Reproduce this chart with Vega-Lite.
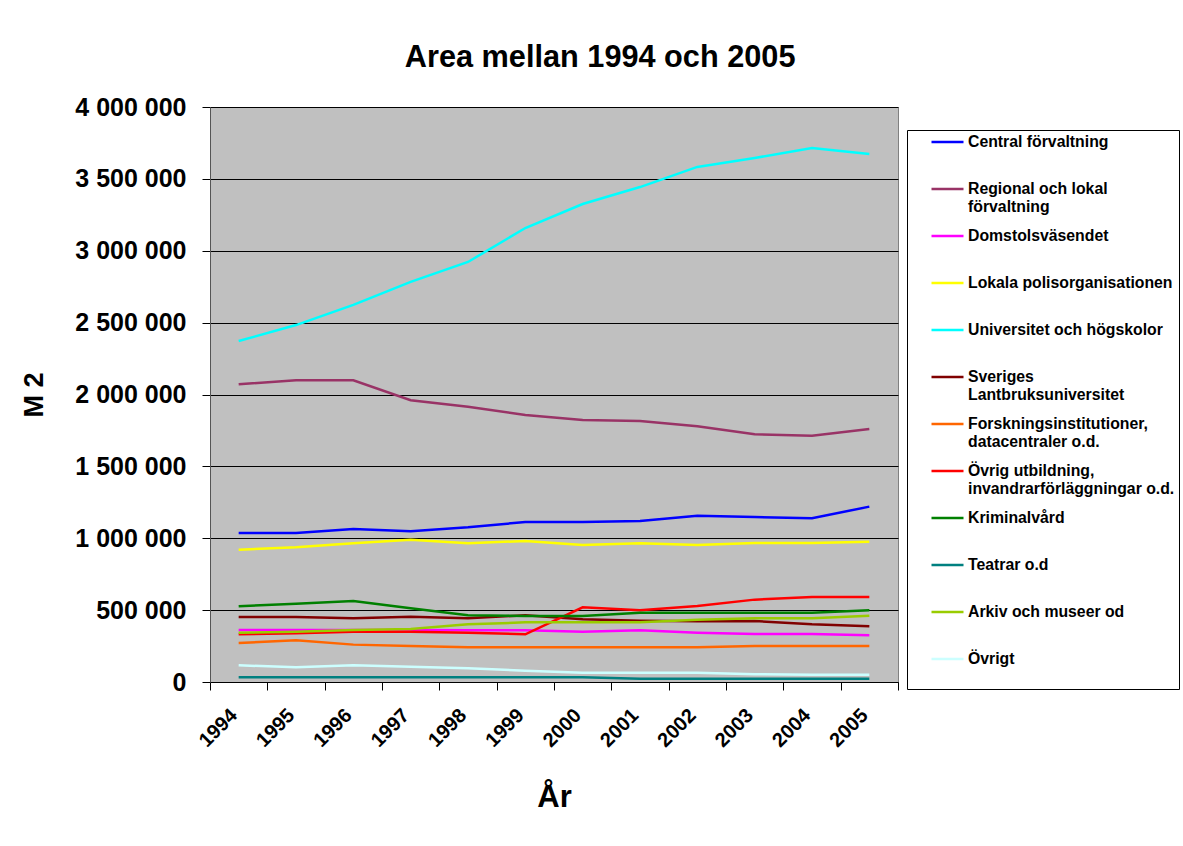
{
  "$schema": "https://vega.github.io/schema/vega-lite/v6.json",
  "autosize": {"type": "none"},
  "padding": {"left": 210, "top": 107, "right": 285, "bottom": 164},
  "width": 688,
  "height": 575,
  "background": "white",
  "config": {
    "font": "Liberation Sans",
    "locale": {"number": {"decimal": ",", "thousands": " ", "grouping": [3], "currency": ["", ""]}},
    "view": {"fill": "#C0C0C0", "stroke": "#808080", "strokeWidth": 1}
  },
  "title": {
    "text": "Area mellan 1994 och 2005",
    "fontSize": 30.7,
    "fontWeight": "bold",
    "font": "Liberation Sans",
    "color": "black",
    "frame": "bounds",
    "offset": 21
  },
  "data": {
    "values": [
      {"year": "1994", "series": "Central förvaltning", "value": 1036000},
      {"year": "1995", "series": "Central förvaltning", "value": 1036000},
      {"year": "1996", "series": "Central förvaltning", "value": 1064000},
      {"year": "1997", "series": "Central förvaltning", "value": 1048000},
      {"year": "1998", "series": "Central förvaltning", "value": 1076000},
      {"year": "1999", "series": "Central förvaltning", "value": 1113000},
      {"year": "2000", "series": "Central förvaltning", "value": 1113000},
      {"year": "2001", "series": "Central förvaltning", "value": 1120000},
      {"year": "2002", "series": "Central förvaltning", "value": 1157000},
      {"year": "2003", "series": "Central förvaltning", "value": 1148000},
      {"year": "2004", "series": "Central förvaltning", "value": 1139000},
      {"year": "2005", "series": "Central förvaltning", "value": 1220000},

      {"year": "1994", "series": "Regional och lokal förvaltning", "value": 2071000},
      {"year": "1995", "series": "Regional och lokal förvaltning", "value": 2099000},
      {"year": "1996", "series": "Regional och lokal förvaltning", "value": 2099000},
      {"year": "1997", "series": "Regional och lokal förvaltning", "value": 1960000},
      {"year": "1998", "series": "Regional och lokal förvaltning", "value": 1915000},
      {"year": "1999", "series": "Regional och lokal förvaltning", "value": 1857000},
      {"year": "2000", "series": "Regional och lokal förvaltning", "value": 1823000},
      {"year": "2001", "series": "Regional och lokal förvaltning", "value": 1816000},
      {"year": "2002", "series": "Regional och lokal förvaltning", "value": 1779000},
      {"year": "2003", "series": "Regional och lokal förvaltning", "value": 1723000},
      {"year": "2004", "series": "Regional och lokal förvaltning", "value": 1713000},
      {"year": "2005", "series": "Regional och lokal förvaltning", "value": 1760000},

      {"year": "1994", "series": "Domstolsväsendet", "value": 362000},
      {"year": "1995", "series": "Domstolsväsendet", "value": 362000},
      {"year": "1996", "series": "Domstolsväsendet", "value": 362000},
      {"year": "1997", "series": "Domstolsväsendet", "value": 362000},
      {"year": "1998", "series": "Domstolsväsendet", "value": 360000},
      {"year": "1999", "series": "Domstolsväsendet", "value": 360000},
      {"year": "2000", "series": "Domstolsväsendet", "value": 350000},
      {"year": "2001", "series": "Domstolsväsendet", "value": 360000},
      {"year": "2002", "series": "Domstolsväsendet", "value": 343000},
      {"year": "2003", "series": "Domstolsväsendet", "value": 334000},
      {"year": "2004", "series": "Domstolsväsendet", "value": 334000},
      {"year": "2005", "series": "Domstolsväsendet", "value": 325000},

      {"year": "1994", "series": "Lokala polisorganisationen", "value": 920000},
      {"year": "1995", "series": "Lokala polisorganisationen", "value": 937000},
      {"year": "1996", "series": "Lokala polisorganisationen", "value": 965000},
      {"year": "1997", "series": "Lokala polisorganisationen", "value": 990000},
      {"year": "1998", "series": "Lokala polisorganisationen", "value": 965000},
      {"year": "1999", "series": "Lokala polisorganisationen", "value": 981000},
      {"year": "2000", "series": "Lokala polisorganisationen", "value": 953000},
      {"year": "2001", "series": "Lokala polisorganisationen", "value": 965000},
      {"year": "2002", "series": "Lokala polisorganisationen", "value": 953000},
      {"year": "2003", "series": "Lokala polisorganisationen", "value": 967000},
      {"year": "2004", "series": "Lokala polisorganisationen", "value": 967000},
      {"year": "2005", "series": "Lokala polisorganisationen", "value": 976000},

      {"year": "1994", "series": "Universitet och högskolor", "value": 2372000},
      {"year": "1995", "series": "Universitet och högskolor", "value": 2483000},
      {"year": "1996", "series": "Universitet och högskolor", "value": 2623000},
      {"year": "1997", "series": "Universitet och högskolor", "value": 2783000},
      {"year": "1998", "series": "Universitet och högskolor", "value": 2922000},
      {"year": "1999", "series": "Universitet och högskolor", "value": 3158000},
      {"year": "2000", "series": "Universitet och högskolor", "value": 3325000},
      {"year": "2001", "series": "Universitet och högskolor", "value": 3443000},
      {"year": "2002", "series": "Universitet och högskolor", "value": 3583000},
      {"year": "2003", "series": "Universitet och högskolor", "value": 3645000},
      {"year": "2004", "series": "Universitet och högskolor", "value": 3715000},
      {"year": "2005", "series": "Universitet och högskolor", "value": 3673000},

      {"year": "1994", "series": "Sveriges Lantbruksuniversitet", "value": 452000},
      {"year": "1995", "series": "Sveriges Lantbruksuniversitet", "value": 452000},
      {"year": "1996", "series": "Sveriges Lantbruksuniversitet", "value": 443000},
      {"year": "1997", "series": "Sveriges Lantbruksuniversitet", "value": 454000},
      {"year": "1998", "series": "Sveriges Lantbruksuniversitet", "value": 443000},
      {"year": "1999", "series": "Sveriges Lantbruksuniversitet", "value": 464000},
      {"year": "2000", "series": "Sveriges Lantbruksuniversitet", "value": 436000},
      {"year": "2001", "series": "Sveriges Lantbruksuniversitet", "value": 426000},
      {"year": "2002", "series": "Sveriges Lantbruksuniversitet", "value": 422000},
      {"year": "2003", "series": "Sveriges Lantbruksuniversitet", "value": 424000},
      {"year": "2004", "series": "Sveriges Lantbruksuniversitet", "value": 401000},
      {"year": "2005", "series": "Sveriges Lantbruksuniversitet", "value": 387000},

      {"year": "1994", "series": "Forskningsinstitutioner, datacentraler o.d.", "value": 271000},
      {"year": "1995", "series": "Forskningsinstitutioner, datacentraler o.d.", "value": 290000},
      {"year": "1996", "series": "Forskningsinstitutioner, datacentraler o.d.", "value": 260000},
      {"year": "1997", "series": "Forskningsinstitutioner, datacentraler o.d.", "value": 250000},
      {"year": "1998", "series": "Forskningsinstitutioner, datacentraler o.d.", "value": 241000},
      {"year": "1999", "series": "Forskningsinstitutioner, datacentraler o.d.", "value": 241000},
      {"year": "2000", "series": "Forskningsinstitutioner, datacentraler o.d.", "value": 241000},
      {"year": "2001", "series": "Forskningsinstitutioner, datacentraler o.d.", "value": 241000},
      {"year": "2002", "series": "Forskningsinstitutioner, datacentraler o.d.", "value": 241000},
      {"year": "2003", "series": "Forskningsinstitutioner, datacentraler o.d.", "value": 250000},
      {"year": "2004", "series": "Forskningsinstitutioner, datacentraler o.d.", "value": 250000},
      {"year": "2005", "series": "Forskningsinstitutioner, datacentraler o.d.", "value": 250000},

      {"year": "1994", "series": "Övrig utbildning, invandrarförläggningar o.d.", "value": 332000},
      {"year": "1995", "series": "Övrig utbildning, invandrarförläggningar o.d.", "value": 339000},
      {"year": "1996", "series": "Övrig utbildning, invandrarförläggningar o.d.", "value": 350000},
      {"year": "1997", "series": "Övrig utbildning, invandrarförläggningar o.d.", "value": 350000},
      {"year": "1998", "series": "Övrig utbildning, invandrarförläggningar o.d.", "value": 343000},
      {"year": "1999", "series": "Övrig utbildning, invandrarförläggningar o.d.", "value": 332000},
      {"year": "2000", "series": "Övrig utbildning, invandrarförläggningar o.d.", "value": 520000},
      {"year": "2001", "series": "Övrig utbildning, invandrarförläggningar o.d.", "value": 499000},
      {"year": "2002", "series": "Övrig utbildning, invandrarförläggningar o.d.", "value": 529000},
      {"year": "2003", "series": "Övrig utbildning, invandrarförläggningar o.d.", "value": 573000},
      {"year": "2004", "series": "Övrig utbildning, invandrarförläggningar o.d.", "value": 591000},
      {"year": "2005", "series": "Övrig utbildning, invandrarförläggningar o.d.", "value": 591000},

      {"year": "1994", "series": "Kriminalvård", "value": 527000},
      {"year": "1995", "series": "Kriminalvård", "value": 545000},
      {"year": "1996", "series": "Kriminalvård", "value": 564000},
      {"year": "1997", "series": "Kriminalvård", "value": 513000},
      {"year": "1998", "series": "Kriminalvård", "value": 464000},
      {"year": "1999", "series": "Kriminalvård", "value": 459000},
      {"year": "2000", "series": "Kriminalvård", "value": 459000},
      {"year": "2001", "series": "Kriminalvård", "value": 482000},
      {"year": "2002", "series": "Kriminalvård", "value": 482000},
      {"year": "2003", "series": "Kriminalvård", "value": 482000},
      {"year": "2004", "series": "Kriminalvård", "value": 482000},
      {"year": "2005", "series": "Kriminalvård", "value": 499000},

      {"year": "1994", "series": "Teatrar o.d", "value": 33000},
      {"year": "1995", "series": "Teatrar o.d", "value": 33000},
      {"year": "1996", "series": "Teatrar o.d", "value": 33000},
      {"year": "1997", "series": "Teatrar o.d", "value": 33000},
      {"year": "1998", "series": "Teatrar o.d", "value": 33000},
      {"year": "1999", "series": "Teatrar o.d", "value": 33000},
      {"year": "2000", "series": "Teatrar o.d", "value": 33000},
      {"year": "2001", "series": "Teatrar o.d", "value": 23000},
      {"year": "2002", "series": "Teatrar o.d", "value": 23000},
      {"year": "2003", "series": "Teatrar o.d", "value": 23000},
      {"year": "2004", "series": "Teatrar o.d", "value": 23000},
      {"year": "2005", "series": "Teatrar o.d", "value": 23000},

      {"year": "1994", "series": "Arkiv och museer od", "value": 343000},
      {"year": "1995", "series": "Arkiv och museer od", "value": 350000},
      {"year": "1996", "series": "Arkiv och museer od", "value": 362000},
      {"year": "1997", "series": "Arkiv och museer od", "value": 369000},
      {"year": "1998", "series": "Arkiv och museer od", "value": 401000},
      {"year": "1999", "series": "Arkiv och museer od", "value": 415000},
      {"year": "2000", "series": "Arkiv och museer od", "value": 415000},
      {"year": "2001", "series": "Arkiv och museer od", "value": 415000},
      {"year": "2002", "series": "Arkiv och museer od", "value": 433000},
      {"year": "2003", "series": "Arkiv och museer od", "value": 443000},
      {"year": "2004", "series": "Arkiv och museer od", "value": 443000},
      {"year": "2005", "series": "Arkiv och museer od", "value": 461000},

      {"year": "1994", "series": "Övrigt", "value": 116000},
      {"year": "1995", "series": "Övrigt", "value": 102000},
      {"year": "1996", "series": "Övrigt", "value": 116000},
      {"year": "1997", "series": "Övrigt", "value": 106000},
      {"year": "1998", "series": "Övrigt", "value": 95000},
      {"year": "1999", "series": "Övrigt", "value": 79000},
      {"year": "2000", "series": "Övrigt", "value": 65000},
      {"year": "2001", "series": "Övrigt", "value": 65000},
      {"year": "2002", "series": "Övrigt", "value": 65000},
      {"year": "2003", "series": "Övrigt", "value": 54000},
      {"year": "2004", "series": "Övrigt", "value": 51000},
      {"year": "2005", "series": "Övrigt", "value": 51000}
    ]
  },
  "mark": {"type": "line", "strokeWidth": 2.5},
  "encoding": {
    "x": {
      "field": "year",
      "type": "ordinal",
      "bandPosition": 0.5,
      "scale": {"type": "band", "paddingInner": 0, "paddingOuter": 0},
      "axis": {
        "title": "År",
        "titleFontSize": 31,
        "titleFontWeight": "bold",
        "titleColor": "black",
        "titlePadding": 32,
        "labelAngle": -45,
        "labelAlign": "right",
        "labelBaseline": "middle",
        "labelFontSize": 20,
        "labelFontWeight": "bold",
        "labelColor": "black",
        "labelPadding": 22,
        "labelOffset": -5,
        "tickBand": "extent",
        "tickSize": 8,
        "tickColor": "black",
        "domainColor": "black",
        "grid": false
      }
    },
    "y": {
      "field": "value",
      "type": "quantitative",
      "scale": {"domain": [0, 4000000], "nice": false},
      "axis": {
        "title": "M 2",
        "titleFontSize": 27,
        "titleFontWeight": "bold",
        "titleColor": "black",
        "titlePadding": 26,
        "values": [0, 500000, 1000000, 1500000, 2000000, 2500000, 3000000, 3500000, 4000000],
        "format": ",d",
        "labelFontSize": 25,
        "labelFontWeight": "bold",
        "labelColor": "black",
        "labelPadding": 16,
        "tickSize": 8,
        "tickColor": "black",
        "domainColor": "#555555",
        "grid": true,
        "gridColor": "black",
        "gridWidth": 1
      }
    },
    "color": {
      "field": "series",
      "type": "nominal",
      "scale": {
        "domain": [
          "Central förvaltning",
          "Regional och lokal förvaltning",
          "Domstolsväsendet",
          "Lokala polisorganisationen",
          "Universitet och högskolor",
          "Sveriges Lantbruksuniversitet",
          "Forskningsinstitutioner, datacentraler o.d.",
          "Övrig utbildning, invandrarförläggningar o.d.",
          "Kriminalvård",
          "Teatrar o.d",
          "Arkiv och museer od",
          "Övrigt"
        ],
        "range": ["#0000FF", "#993366", "#FF00FF", "#FFFF00", "#00FFFF", "#800000", "#FF6600", "#FF0000", "#008000", "#008080", "#99CC00", "#CCFFFF"]
      },
      "legend": {
        "orient": "none",
        "legendX": 697,
        "legendY": 23,
        "title": null,
        "strokeColor": "black",
        "fillColor": "white",
        "padding": 4,
        "symbolType": "stroke",
        "symbolSize": 1024,
        "symbolStrokeWidth": 2.5,
        "symbolOffset": 19,
        "labelOffset": 3,
        "labelFontSize": 15.8,
        "labelFontWeight": "bold",
        "labelColor": "black",
        "labelLimit": 300,
        "clipHeight": 16,
        "rowPadding": 13,
        "labelExpr": "datum.label == 'Regional och lokal förvaltning' ? ['Regional och lokal', 'förvaltning'] : datum.label == 'Sveriges Lantbruksuniversitet' ? ['Sveriges', 'Lantbruksuniversitet'] : datum.label == 'Forskningsinstitutioner, datacentraler o.d.' ? ['Forskningsinstitutioner,', 'datacentraler o.d.'] : datum.label == 'Övrig utbildning, invandrarförläggningar o.d.' ? ['Övrig utbildning,', 'invandrarförläggningar o.d.'] : [datum.label, '']"
      }
    }
  }
}
